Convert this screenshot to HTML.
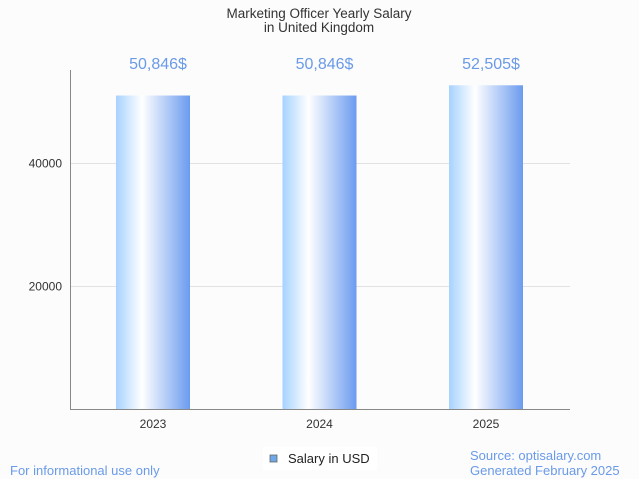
<!DOCTYPE html>
<html><head><meta charset="utf-8"><style>
body{margin:0;background:#fcfcfc;font-family:"Liberation Sans",sans-serif}
#c{position:relative;width:639px;height:479px;overflow:hidden;background:#fcfcfc}
</style></head><body>
<div id="c">
<svg id="s" width="639" height="479" xmlns="http://www.w3.org/2000/svg">
<defs><linearGradient id="g" x1="0" x2="1" y1="0" y2="0">
<stop offset="0" stop-color="#a6d2ff"/><stop offset="0.35" stop-color="#ffffff"/><stop offset="1" stop-color="#6b9bef"/>
</linearGradient></defs>
<text x="319" y="18" text-anchor="middle" font-size="13.5" fill="#333">Marketing Officer Yearly Salary</text>
<text x="319" y="32" text-anchor="middle" font-size="13.5" fill="#333">in United Kingdom</text>
<g id="grid"></g><g id="bars"></g>
<line x1="70.5" y1="70" x2="70.5" y2="409" stroke="#888"/>
<line x1="70" y1="409.5" x2="570" y2="409.5" stroke="#888"/>
<rect x="263" y="447" width="114" height="23" fill="#fff"/>
<rect x="270" y="455" width="7" height="7" fill="#6fa8e8" stroke="#666" stroke-width="0.8"/>
<text x="288" y="463" font-size="13" fill="#222">Salary in USD</text>
<text x="10" y="475" font-size="13" fill="#6a9ae8">For informational use only</text>
<text x="470" y="460" font-size="13" fill="#6a9ae8">Source: optisalary.com</text>
<text x="470" y="475" font-size="13" fill="#6a9ae8">Generated February 2025</text>
</svg></div>
<script>
const categories=["2023","2024","2025"];
const values=[50846,50846,52505];
const valueLabels=["50,846$","50,846$","52,505$"];
const yTicks=[20000,40000];
const NS="http://www.w3.org/2000/svg";
const y=v=>409.5-v*247/40000;
const xc=i=>153+i*166.5;
function mk(t,a,p,txt){const e=document.createElementNS(NS,t);for(const k in a)e.setAttribute(k,a[k]);if(txt)e.textContent=txt;p.appendChild(e);return e;}
const grid=document.getElementById('grid'),bars=document.getElementById('bars');
yTicks.forEach(t=>{
const yy=Math.round(y(t))+0.5;
const l=mk('line',{x1:70,x2:570,y1:yy,y2:yy,stroke:'#e2e2e2'},grid);


const tx=mk('text',{x:62,y:yy+4,'text-anchor':'end','font-size':12,fill:'#333'},grid,String(t));


});
categories.forEach((c,i)=>{
const r=mk('rect',{x:xc(i)-37,y:y(values[i]),width:74,height:409.5-y(values[i]),fill:'url(#g)'},bars);


const v=mk('text',{x:xc(i)+5,y:69,'text-anchor':'middle','font-size':16,fill:'#6a9ae8'},bars,valueLabels[i]);


const t=mk('text',{x:xc(i),y:428,'text-anchor':'middle','font-size':12,fill:'#333'},bars,c);


});
</script></body></html>
